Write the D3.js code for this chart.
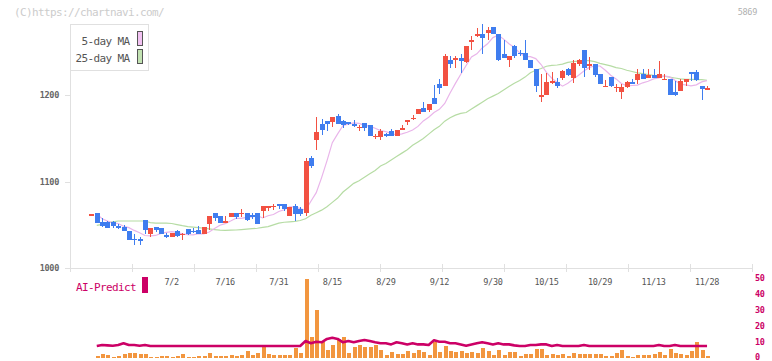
<!DOCTYPE html>
<html><head><meta charset="utf-8">
<script src="https://cdn.jsdelivr.net/npm/d3@7"></script>
<style>body{margin:0;background:#fff}svg{display:block}</style>
</head><body>
<svg id="c" width="772" height="361"></svg>
<script>
// ---- data (index 0 = first candle, last = 11/28) ----
const openP = [
1062.5,1063.3,1052.8,1052.8,1052.8,1048.6,1047.4,1043.2,1034,1033.5,
1055.2,1038.9,1047.8,1045.9,1038.2,1036.2,1042.4,1039.5,1044.7,1043.3,
1044,1039,1050.5,1064,1059.8,1053.9,1058.6,1064,1064,1063.5,
1061.3,1063.7,1065.7,1071.2,1071.6,1073.7,1073.7,1060.2,1071.4,1068,
1063.7,1127.4,1148.3,1167.2,1169.9,1169.1,1175.7,1169.9,1169.1,1166.8,
1163.3,1168.3,1165.2,1152.8,1151.7,1155.6,1158.7,1152.9,1159.8,1169.2,
1174,1178.8,1185.8,1183.4,1196.6,1212.8,1210.9,1240.6,1242.5,1242.9,
1238.6,1263.6,1270.2,1270.7,1272.2,1279.2,1270.7,1248.3,1241.3,1256.8,
1249.1,1249.5,1241.3,1230.9,1199.6,1200,1215.8,1215.1,1220.1,1230.1,
1220.1,1235.9,1252.1,1235.8,1235.9,1224.3,1211.1,1220.9,1209.6,1203.9,
1209.7,1215.4,1218.2,1225.1,1220.5,1223.6,1219.7,1218.8,1218.5,1203.5,
1204.6,1215.1,1226.7,1226.7,1210.4,1208];
const highP = [
1062.5,1063.3,1058.2,1054.8,1054.8,1051.3,1050.1,1043.2,1039.7,1035.8,
1055.2,1045.9,1047.8,1045.9,1040.5,1040.5,1044,1040.5,1045.5,1045.9,
1049,1047.8,1059.8,1064,1059.8,1059.8,1064,1064,1068.7,1064,
1064.1,1063.7,1071.4,1071.4,1073.7,1073.7,1073.7,1070.3,1073.7,1070.3,
1127.8,1129.7,1174.5,1172.2,1169.9,1174.5,1178,1171.8,1169.1,1171.4,
1166,1168.3,1165.2,1155.6,1161.4,1156.8,1161.4,1159.4,1165.2,1171.1,
1176.9,1184.6,1192.3,1189.6,1211.6,1219.3,1248.3,1245.6,1245.2,1248.3,
1257.2,1268.8,1277.3,1282.3,1279.2,1279.2,1270.7,1263.7,1245.2,1258,
1252.2,1263.7,1241.3,1230.9,1225.1,1225.9,1227.1,1220.1,1229.7,1231.7,
1240.5,1242.5,1252.1,1244.4,1235.9,1224.3,1217.4,1220.9,1212.7,1212.7,
1216.2,1218.9,1230.1,1230.1,1230.1,1230.1,1239.4,1225.1,1218.5,1216.6,
1218.9,1218.5,1226.7,1229,1210.4,1210.4];
const lowP = [
1062.5,1051.7,1047.4,1046,1046.7,1044.7,1042.8,1032,1027,1027,
1039.3,1035.8,1041.2,1039.3,1034.7,1036.2,1035.5,1032.8,1038.5,1040,
1039,1039,1044,1054,1051.7,1051.7,1058.6,1057.1,1059.4,1054.4,
1056.4,1051,1058,1065.7,1066.8,1068,1065.7,1060.2,1054.5,1060.2,
1060.2,1115.8,1136.7,1153.7,1158.3,1163.3,1166.8,1162.2,1166,1162.9,
1158.3,1158.3,1152.9,1149.8,1148.3,1151.7,1152.9,1152.9,1159.8,1166.1,
1171.1,1178,1180.4,1180.8,1189.6,1202,1210.9,1231.7,1231,1225.9,
1237.5,1252.2,1267.6,1248.3,1264.5,1270.7,1239.8,1243.3,1232.9,1243.7,
1245.2,1241.3,1231.7,1203.9,1192.3,1200,1212.8,1208.5,1218.2,1222,
1214.3,1234,1221.2,1229.7,1221.2,1213.1,1210.8,1209.7,1203.9,1195.4,
1208.5,1213.1,1213.5,1218.9,1220.5,1220.5,1219.7,1217.4,1200,1198.9,
1204.6,1210.4,1216.6,1216.2,1194.2,1205.8];
const closeP = [
1062.5,1051.7,1048.6,1046.3,1048.6,1046.7,1043.2,1032.8,1033,1032.5,
1044.3,1045.9,1044.3,1039.3,1036.2,1040.5,1037,1039.7,1038.9,1043.1,
1039,1047.8,1059.8,1057.9,1052.4,1054,1064,1058.6,1064.1,1055.2,
1060.9,1051,1071.4,1071.4,1072.2,1071.4,1068,1070.3,1062.2,1062.2,
1123.6,1117.8,1157.5,1159.4,1167.2,1174.5,1166.8,1165.2,1166.4,1164.1,
1163.5,1162.2,1152.9,1152.9,1158.3,1152.9,1152.9,1159.4,1162.2,1171.1,
1174.2,1184.6,1180.4,1189.6,1189.6,1208.1,1245.2,1236.3,1242.7,1239.8,
1257.2,1263.8,1270.4,1266.4,1276.1,1270.7,1241.3,1243.3,1245.2,1245.2,
1248.9,1241.3,1231.7,1210.9,1199.8,1215.1,1216,1210.9,1227.8,1223.6,
1237.5,1240.5,1231.7,1236,1223.6,1213.1,1211.2,1210.8,1209.8,1209.7,
1215.1,1213.1,1224.3,1218.9,1223.6,1220.5,1224.3,1219,1200,1200,
1216.6,1218.5,1225.1,1217.4,1207.3,1208.2];
const ma25 = [
null,1049.4,1050.5,1052,1053.5,1054.4,1054.4,1054.4,1054.4,1054.4,
1054.4,1052.5,1052,1052,1052,1051.5,1050.3,1049,1047.9,1047.3,
1046.7,1046,1045.3,1044.5,1043.8,1043.6,1043.8,1044,1044.5,1045,
1045.5,1046,1047,1048,1050,1052,1053,1053.5,1054,1055,
1057,1061,1064,1067,1071,1076,1081,1088,1093,1098,
1101,1105,1109,1113,1118,1121,1125,1129,1133,1137,
1142,1146,1150,1155,1160,1164,1170,1174,1177,1179,
1180,1184,1188,1192,1196,1199,1202,1206,1210,1214,
1217,1221,1226,1229,1231,1233.6,1234.5,1235,1236,1238,
1239,1239.5,1240,1240,1239,1237,1235.5,1234,1232,1231,
1229,1227.5,1226,1225,1224,1223,1222.5,1222,1221,1220,
1219,1218.5,1218.3,1218.2,1218.1,1217.4];
const volume = [
null,1.5,2.5,1.9,0.8,1.5,2.5,3.1,3.1,2.5,
2.5,0.8,0.8,1.5,1.5,0.8,1.5,2.5,0.8,0.8,
1.5,1.5,3.1,1.5,1.5,1.5,1.9,1.5,1.9,4.4,
1.9,3.1,6.9,2.5,1.9,1.9,1.9,1.9,6.5,3.1,
49.4,13.3,30.2,10.2,5,8.1,11.7,13.3,3.1,7.1,
8.1,7.1,7.1,8.1,5,2,3.8,2.5,2.5,4.4,
3.1,5,3.75,1.9,9.8,3.75,7.5,4.4,3.75,4.4,
3.1,3.5,3.1,6.25,4.4,1.9,5,1.9,3.75,3.75,
1.25,2.5,2.5,5.6,5.6,1.9,2.5,1.9,2.5,1.25,
3.1,2.5,2.5,2.5,2.5,2.5,1.25,1.25,3.1,5,
1.25,0.6,1.9,1.9,1.9,2.5,3.75,1.9,5.6,3.1,
2.5,1.9,4.4,10,5,1.5];
const aiPredict = [
null,7.5,8.1,7.9,7.7,8.1,9.2,8.1,8.1,7.7,
8.1,7.5,7.5,7.5,7.5,7.5,7.5,7.5,7.5,7.5,
7.5,7.5,7.5,7.5,7.5,7.5,7.5,7.5,7.5,7.5,
7.5,7.5,7.5,7.5,7.5,7.5,7.5,7.5,7.5,7.5,
10.6,9.2,10.2,9.8,11.9,12.7,11.9,9.8,10.6,9.8,
10.6,11.25,10.6,9.8,9.2,9.2,8.5,9.8,9.2,8.5,
9.2,8.5,8.5,8.1,11.1,10.2,10.2,9.2,9.2,8.5,
7.7,8.5,9.2,9.8,9.2,8.5,9.2,8.5,8.5,7.9,
7.5,7.5,8.1,8.1,8.5,8.5,7.5,8.1,7.5,7.5,
7.5,7.5,8.1,7.5,7.5,7.5,7.5,7.5,7.5,7.5,
7.5,7.5,7.5,7.5,7.5,7.5,8.1,7.5,7.5,8.1,
7.5,7.5,7.5,7.5,7.5,7.5];
const dateLabels = ["7/2","7/16","7/31","8/15","8/29","9/12","9/30","10/15","10/29","11/13","11/28"];
const dateIndex  = [15,25,35,45,55,65,75,85,95,105,115];
const priceTicks = [1000,1100,1200];
const subTicks = [0,10,20,30,40,50];
const gridTicks = d3.range(12);

// 5-day MA from closes (prior five sessions)
const ma5 = closeP.map((c,i)=> i===0 ? null : d3.mean(closeP.slice(Math.max(0,i-5), i)));

const RED="#f25142", BLUE="#3f7def", MAG="#cc0066";
const MONO="'DejaVu Sans Mono','Liberation Mono',monospace";
const svg = d3.select("#c");
const n = closeP.length;
const x = d3.scaleLinear().domain([-4, 123.4]).range([70, 752]);
const y = d3.scaleLinear().domain([1000, 1282.5]).range([268, 24]);
const yv = d3.scaleLinear().domain([0, 50]).range([358, 278]);
const xg = d3.scaleLinear().domain([0, 11]).range([70, 752]);

// header texts
svg.append("text").attr("x",14).attr("y",15.5).text("(C)https://chartnavi.com/")
  .attr("font-family",MONO).attr("font-size",11).attr("letter-spacing",-0.62).attr("fill","#cccccc");
svg.append("text").attr("x",757).attr("y",15).attr("text-anchor","end").text("5869")
  .attr("font-family",MONO).attr("font-size",8.5).attr("letter-spacing",-0.3).attr("fill","#b0b0b0");

// axes
const gAx = svg.append("g").attr("shape-rendering","crispEdges");
gAx.append("line").attr("x1",x.range()[0]+0.5).attr("x2",x.range()[0]+0.5)
  .attr("y1",y.range()[1]).attr("y2",y(1000)).attr("stroke","#e0e0e0");
gAx.append("line").attr("x1",70).attr("x2",752).attr("y1",y(1000)+0.5).attr("y2",y(1000)+0.5).attr("stroke","#e0e0e0");
gAx.selectAll(".gt").data(gridTicks).join("line")
  .attr("x1",d=>Math.round(xg(d))+0.5).attr("x2",d=>Math.round(xg(d))+0.5)
  .attr("y1",y(1000)-4).attr("y2",y(1000)+4).attr("stroke","#e0e0e0");
gAx.selectAll(".yt").data(priceTicks).join("line")
  .attr("x1",65).attr("x2",70).attr("y1",d=>Math.round(y(d))+0.5).attr("y2",d=>Math.round(y(d))+0.5)
  .attr("stroke","#e0e0e0");
svg.selectAll(".yl").data(priceTicks).join("text")
  .attr("x",59).attr("y",d=>y(d)+3).attr("text-anchor","end").text(d=>d)
  .attr("font-family",MONO).attr("font-size",8.5).attr("font-weight","bold").attr("letter-spacing",-0.3).attr("fill","#666");
svg.selectAll(".xl").data(dateLabels).join("text")
  .attr("x",(d,i)=>x(dateIndex[i])).attr("y",285).attr("text-anchor","middle").text(d=>d)
  .attr("font-family",MONO).attr("font-size",8.5).attr("letter-spacing",-0.3).attr("fill","#555");

// moving averages
const line = d3.line().defined(d=>d[1]!=null).x(d=>x(d[0])).y(d=>y(d[1]));
svg.append("path").attr("d",line(ma25.map((v,i)=>[i,v]))).attr("fill","none")
  .attr("stroke","#b6dca4").attr("stroke-width",1.2);
svg.append("path").attr("d",line(ma5.map((v,i)=>[i,v]))).attr("fill","none")
  .attr("stroke","#e9b5ea").attr("stroke-width",1.2);

// candles
const gc = svg.append("g").attr("shape-rendering","crispEdges");
const idx = d3.range(n);
gc.selectAll(".wk").data(idx).join("line")
  .attr("x1",i=>Math.round(x(i))+0.5).attr("x2",i=>Math.round(x(i))+0.5)
  .attr("y1",i=>y(highP[i])).attr("y2",i=>y(lowP[i]))
  .attr("stroke",i=>closeP[i]>=openP[i]?RED:BLUE).attr("stroke-width",1);
gc.selectAll(".bd").data(idx).join("rect")
  .attr("x",i=>Math.round(x(i))-2).attr("width",5)
  .attr("y",i=>y(Math.max(openP[i],closeP[i])))
  .attr("height",i=>Math.max(1.5, Math.abs(y(openP[i])-y(closeP[i]))))
  .attr("fill",i=>closeP[i]>=openP[i]?RED:BLUE);

// legend
svg.append("rect").attr("x",70.5).attr("y",24.5).attr("width",78).attr("height",46)
  .attr("fill","#fff").attr("stroke","#e0e0e0");
const legend = [["5-day MA","#f2c2f2",31,45],["25-day MA","#c2e2b2",49,62]];
legend.forEach(([t,c,ry,ty])=>{
  svg.append("text").attr("x",129.5).attr("y",ty).attr("text-anchor","end").text(t)
    .attr("font-family",MONO).attr("font-size",11).attr("letter-spacing",-0.62).attr("fill","#555");
  svg.append("rect").attr("x",137.5).attr("y",ry+0.5).attr("width",5).attr("height",14)
    .attr("fill",c).attr("stroke","#555").attr("stroke-width",1);
});

// lower panel
svg.append("text").attr("x",76).attr("y",290.5).text("AI-Predict")
  .attr("font-family",MONO).attr("font-size",11).attr("letter-spacing",-0.62).attr("fill",MAG);
svg.append("rect").attr("x",142).attr("y",277).attr("width",6).attr("height",16).attr("fill",MAG);
svg.selectAll(".rl").data(subTicks).join("text")
  .attr("x",755).attr("y",d=>Math.min(359.5, yv(d)+3)).text(d=>d)
  .attr("font-family",MONO).attr("font-size",8.5).attr("font-weight","bold").attr("letter-spacing",-0.3).attr("fill",MAG);
svg.append("g").attr("shape-rendering","crispEdges").selectAll("rect")
  .data(idx.filter(i=>volume[i]!=null)).join("rect")
  .attr("x",i=>Math.round(x(i))-1.5).attr("width",4)
  .attr("y",i=>yv(Math.min(50,volume[i]))).attr("height",i=>yv(0)-yv(Math.min(50,volume[i])))
  .attr("fill","#f2963f");
const aline = d3.line().defined(d=>d[1]!=null).x(d=>x(d[0])).y(d=>yv(d[1]));
svg.append("path").attr("d",aline(aiPredict.map((v,i)=>[i,v]))).attr("fill","none")
  .attr("stroke",MAG).attr("stroke-width",2.6).attr("stroke-linejoin","round");
</script>
</body></html>
